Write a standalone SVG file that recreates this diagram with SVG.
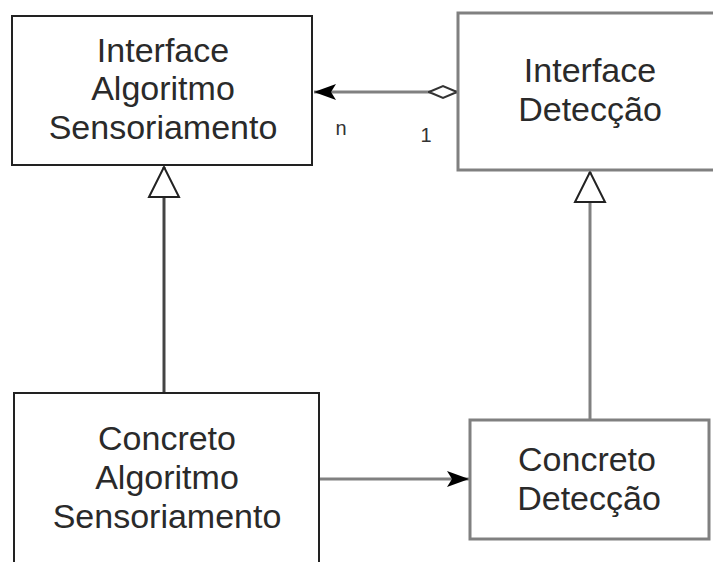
<svg xmlns="http://www.w3.org/2000/svg" width="713" height="562" viewBox="0 0 713 562">
<style>
.lbl{font-family:"Liberation Sans",Arial,sans-serif;font-size:34px;fill:#2a2a2a;text-anchor:middle}
.small{font-family:"Liberation Sans",Arial,sans-serif;font-size:20px;fill:#333;text-anchor:middle}
.dark{fill:#fff;stroke:#222;stroke-width:2}
.gray{fill:#fff;stroke:#808080;stroke-width:3}
.edge{fill:none;stroke-width:3}
</style>
<defs>
<marker id="filled" markerUnits="userSpaceOnUse" markerWidth="24" markerHeight="20" viewBox="0 0 24 20" refX="22" refY="10" orient="auto">
<path d="M0,2 L22,10 L0,18 L5,10 Z" fill="#000"/>
</marker>
<marker id="diamond" markerUnits="userSpaceOnUse" markerWidth="30" markerHeight="16" viewBox="0 0 30 16" refX="1" refY="8" orient="auto">
<path d="M1,8 L15,2 L29,8 L15,14 Z" fill="#fff" stroke="#333" stroke-width="2"/>
</marker>
<marker id="tri" markerUnits="userSpaceOnUse" markerWidth="34" markerHeight="34" viewBox="0 0 34 34" refX="32" refY="17" orient="auto">
<path d="M2,2 L32,17 L2,32 Z" fill="#fff" stroke="#222" stroke-width="2"/>
</marker>
</defs>
<g id="connectors">
<line class="edge" x1="457" y1="92" x2="314" y2="92" stroke="#808080" marker-start="url(#diamond)" marker-end="url(#filled)"/>
<line class="edge" x1="164" y1="393" x2="164" y2="167" stroke="#444" stroke-width="2" marker-end="url(#tri)"/>
<line class="edge" x1="590" y1="420" x2="590" y2="172" stroke="#808080" marker-end="url(#tri)"/>
<line class="edge" x1="319" y1="479" x2="469" y2="479" stroke="#808080" marker-end="url(#filled)"/>
<text class="small" x="341" y="135">n</text>
<text class="small" x="426" y="142">1</text>
</g>
<g id="interface-algoritmo">
<rect class="dark" x="12" y="16" width="300" height="149"/>
<text class="lbl" x="163" y="62">Interface</text>
<text class="lbl" x="163" y="100">Algoritmo</text>
<text class="lbl" x="163" y="139">Sensoriamento</text>
</g>
<g id="interface-deteccao">
<rect class="gray" x="458" y="13" width="270" height="157"/>
<text class="lbl" x="590" y="82">Interface</text>
<text class="lbl" x="590" y="121">Detecção</text>
</g>
<g id="concreto-algoritmo">
<rect class="dark" x="14" y="393" width="305" height="200"/>
<text class="lbl" x="167" y="450">Concreto</text>
<text class="lbl" x="167" y="489">Algoritmo</text>
<text class="lbl" x="167" y="528">Sensoriamento</text>
</g>
<g id="concreto-deteccao">
<rect class="gray" x="470" y="420" width="239" height="119"/>
<text class="lbl" x="587" y="471">Concreto</text>
<text class="lbl" x="589" y="510">Detecção</text>
</g>
</svg>
